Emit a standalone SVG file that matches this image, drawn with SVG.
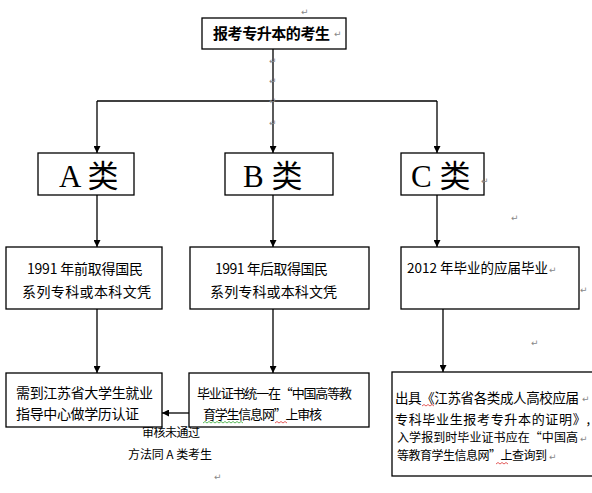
<svg xmlns="http://www.w3.org/2000/svg" width="592" height="493" viewBox="0 0 592 493">
<defs>
<marker id="arr" viewBox="0 0 10 10" refX="10" refY="5" markerWidth="7" markerHeight="7" markerUnits="userSpaceOnUse" orient="auto">
<path d="M0,0 L10,5 L0,10 Z" fill="#000"/>
</marker>
</defs>
<style>
.box{fill:#fff;stroke:#000;stroke-width:1.3}
.ln{stroke:#000;stroke-width:1.3;fill:none}
.t{font-family:"Noto Sans CJK SC","Liberation Sans",sans-serif;fill:#000}
.big{font-family:"Liberation Serif","Noto Sans CJK SC",serif;font-size:31px;fill:#000}
.pm{font-family:"DejaVu Sans",sans-serif;font-size:9px;fill:#888}
.sq{fill:none;stroke-width:0.8}
</style>
<rect width="592" height="493" fill="#fff"/>
<g id="connectors">
<line class="ln" x1="273" y1="49" x2="273" y2="101"/>
<line class="ln" x1="97" y1="101" x2="437" y2="101"/>
<line class="ln" x1="97" y1="101" x2="97" y2="153" marker-end="url(#arr)"/>
<line class="ln" x1="273" y1="101" x2="273" y2="153" marker-end="url(#arr)"/>
<line class="ln" x1="437" y1="101" x2="437" y2="153" marker-end="url(#arr)"/>
<line class="ln" x1="97" y1="195" x2="97" y2="247" marker-end="url(#arr)"/>
<line class="ln" x1="273" y1="195" x2="273" y2="247" marker-end="url(#arr)"/>
<line class="ln" x1="437" y1="195" x2="437" y2="247" marker-end="url(#arr)"/>
<line class="ln" x1="97" y1="309" x2="97" y2="373" marker-end="url(#arr)"/>
<line class="ln" x1="273" y1="309" x2="273" y2="373" marker-end="url(#arr)"/>
<line class="ln" x1="443" y1="309" x2="443" y2="372" marker-end="url(#arr)"/>
<line class="ln" x1="189" y1="413" x2="162" y2="413" marker-end="url(#arr)"/>
<text class="t" x="142" y="437" font-size="12" textLength="58">审核未通过</text>
<text class="t" x="128" y="459" font-size="12" textLength="84">方法同 A 类考生</text>
</g>
<g id="top">
<rect class="box" x="202" y="18" width="144" height="31"/>
<text class="t" x="213" y="39" font-size="15" font-weight="bold" textLength="117">报考专升本的考生</text>
</g>
<g id="classA">
<rect class="box" x="38" y="153" width="96" height="42"/>
<text class="big" x="59" y="187">A 类</text>
</g>
<g id="classB">
<rect class="box" x="225" y="153" width="108" height="42"/>
<text class="big" x="243" y="187">B 类</text>
</g>
<g id="classC">
<rect class="box" x="401" y="153" width="83" height="42"/>
<text class="big" x="411" y="187">C 类</text>
</g>
<g id="a2">
<rect class="box" x="6" y="247" width="156" height="62"/>
<text class="t" x="27" y="274" font-size="14" textLength="116">1991 年前取得国民</text>
<text class="t" x="22" y="297" font-size="14" textLength="129">系列专科或本科文凭</text>
</g>
<g id="b2">
<rect class="box" x="190" y="247" width="179" height="62"/>
<text class="t" x="215" y="274" font-size="14" textLength="113">1991 年后取得国民</text>
<text class="t" x="210" y="297" font-size="14" textLength="127">系列专科或本科文凭</text>
</g>
<g id="c2">
<rect class="box" x="401" y="247" width="178" height="62"/>
<text class="t" x="407" y="273" font-size="13.5" textLength="141">2012 年毕业的应届毕业</text>
</g>
<g id="a3">
<rect class="box" x="6" y="373" width="156" height="54"/>
<text class="t" x="16" y="398" font-size="14" textLength="137">需到江苏省大学生就业</text>
<text class="t" x="16" y="419" font-size="14" textLength="123">指导中心做学历认证</text>
</g>
<g id="b3">
<rect class="box" x="189" y="373" width="180" height="54"/>
<text class="t" x="197" y="398" font-size="13" textLength="155">毕业证书统一在“中国高等教</text>
<text class="t" x="203" y="419" font-size="13" textLength="119">育学生信息网”上审核</text>
<path class="sq" stroke="#3a3" d="M203,423 l2,-1.5 l2,1.5 l2,-1.5 l2,1.5 l2,-1.5 l2,1.5 l2,-1.5 l2,1.5 l2,-1.5 l2,1.5 l2,-1.5 l2,1.5 l2,-1.5 l2,1.5 l2,-1.5 l2,1.5 l2,-1.5 l2,1.5 l2,-1.5 l2,1.5"/>
<path class="sq" stroke="#d33" d="M275,423 l2,-1.5 l2,1.5 l2,-1.5 l2,1.5 l2,-1.5 l2,1.5"/>
</g>
<g id="c3">
<rect class="box" x="392" y="372" width="210" height="104"/>
<text class="t" x="395" y="403" font-size="13.5" textLength="184">出具《江苏省各类成人高校应届</text>
<text class="t" x="395" y="424" font-size="13" textLength="195">专科毕业生报考专升本的证明》,</text>
<text class="t" x="397" y="442" font-size="12" textLength="181">入学报到时毕业证书应在“中国高</text>
<text class="t" x="397" y="460" font-size="12" textLength="150">等教育学生信息网”上查询到</text>
<path class="sq" stroke="#d33" d="M422,406 l2,-1.5 l2,1.5 l2,-1.5 l2,1.5 l2,-1.5 l2,1.5"/>
<path class="sq" stroke="#d33" d="M496,464 l2,-1.5 l2,1.5 l2,-1.5 l2,1.5 l2,-1.5 l2,1.5"/>
</g>
<g id="marks">
<text class="pm" x="301" y="15">↵</text>
<text class="pm" x="334" y="37">↵</text>
<text class="pm" x="269" y="64">↵</text>
<text class="pm" x="269" y="84">↵</text>
<text class="pm" x="269" y="104">↵</text>
<text class="pm" x="269" y="126">↵</text>
<text class="pm" x="481" y="184">↵</text>
<text class="pm" x="511" y="221">↵</text>
<text class="pm" x="549" y="273">↵</text>
<text class="pm" x="580" y="293">↵</text>
<text class="pm" x="531" y="346">↵</text>
<text class="pm" x="582" y="402">↵</text>
<text class="pm" x="580" y="442">↵</text>
<text class="pm" x="549" y="460">↵</text>
<text class="pm" x="214" y="480">↵</text>
</g>
</svg>
